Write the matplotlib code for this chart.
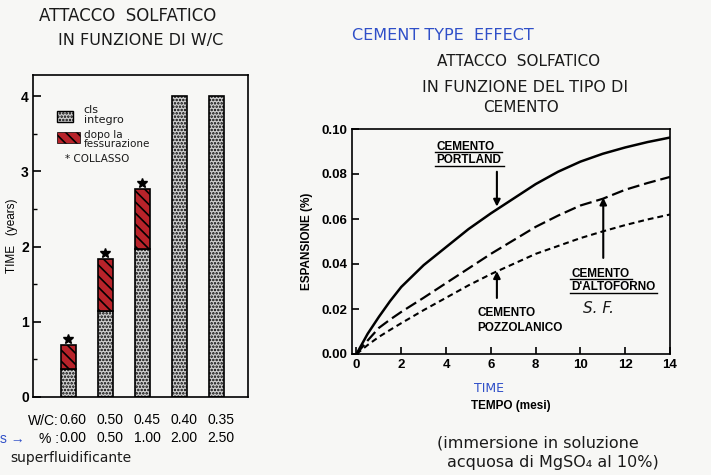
import numpy as np
import matplotlib.pyplot as plt
from matplotlib.patches import Rectangle
from matplotlib.ticker import MultipleLocator

# left chart: time to collapse vs w/c ratio
wc_ratio = ["0.60", "0.50", "0.45", "0.40", "0.35"]
superplast = ["0.00", "0.50", "1.00", "2.00", "2.50"]
intact_years = [0.37, 1.14, 1.97, 4.0, 4.0]
collapse_years = [0.69, 1.84, 2.76, np.nan, np.nan]

# right chart: expansion vs time for cement types
months = [0, 0.5, 1, 1.5, 2, 3, 4, 5, 6, 7, 8, 9, 10, 11, 12, 13, 14]
portland = [0, 0.009, 0.0165, 0.0235, 0.0298, 0.0395, 0.0475, 0.0555, 0.0625,
            0.069, 0.0755, 0.081, 0.0855, 0.089, 0.0918, 0.0942, 0.0962]
altoforno = [0, 0.006, 0.0116, 0.0153, 0.0187, 0.025, 0.0315, 0.038, 0.0445,
             0.0505, 0.0565, 0.0615, 0.066, 0.069, 0.073, 0.076, 0.0787]
pozzolanico = [0, 0.004, 0.0076, 0.0107, 0.0137, 0.0195, 0.025, 0.0305, 0.0355,
               0.040, 0.0445, 0.048, 0.0515, 0.0545, 0.0573, 0.0598, 0.062]

plt.rcParams["font.family"] = ["Liberation Sans", "DejaVu Sans"]
plt.rcParams["hatch.linewidth"] = 1.2

fig = plt.figure(figsize=(7.11, 4.75), dpi=100, facecolor="#f7f7f5")
W, H = 711, 475


def px(x, y):
    return x / W, 1 - y / H


hand = dict(family="DejaVu Sans", color="#1a1a1a")
blue = "#2f4fc8"

# ---------- left chart ----------
ax1 = fig.add_axes([33 / W, 1 - 397 / H, 215 / W, 322 / H])
ax1.set_facecolor("#f7f7f5")
pos = np.arange(1, 6)
crack = np.array(collapse_years) - np.array(intact_years)
ax1.bar(pos, intact_years, width=0.4, facecolor="#cfcfcf", edgecolor="black",
        hatch=".....", lw=1.2)
ax1.bar(pos, crack, bottom=intact_years, width=0.4, facecolor="#b8232a",
        edgecolor="black", hatch="\\\\\\", lw=1.2)
ax1.plot(pos, np.array(collapse_years) + 0.08, "k*", ms=7, ls="none")

ax1.set_xlim(0.05, 5.85)
ax1.set_ylim(0, 4.28)
ax1.set_xticks([])
ax1.yaxis.set_major_locator(MultipleLocator(1))
ax1.yaxis.set_minor_locator(MultipleLocator(0.5))
ax1.tick_params(axis="y", direction="in", length=6, width=1.2, labelsize=10, pad=3)
ax1.tick_params(axis="y", which="minor", direction="in", length=3, width=1)
for lab in ax1.get_yticklabels():
    lab.set_fontweight("bold")
for s in ax1.spines.values():
    s.set_linewidth(1.2)
ax1.set_ylabel("TIME   (years)", fontsize=8.5, labelpad=2)

# legend drawn by hand like the original
ax1.add_patch(Rectangle((0.11, 0.855), 0.075, 0.032, transform=ax1.transAxes,
                        facecolor="#cfcfcf", edgecolor="black", hatch=".....", lw=1))
ax1.add_patch(Rectangle((0.11, 0.79), 0.11, 0.032, transform=ax1.transAxes,
                        facecolor="#b8232a", edgecolor="black", hatch="\\\\\\", lw=0.5))
ax1.text(0.235, 0.875, "cls\nintegro", transform=ax1.transAxes, fontsize=8,
         va="center", linespacing=0.95, **hand)
ax1.text(0.235, 0.8, "dopo la\nfessurazione", transform=ax1.transAxes, fontsize=7.5,
         va="center", linespacing=0.95, **hand)
ax1.text(0.15, 0.74, "* COLLASSO", transform=ax1.transAxes, fontsize=7.5,
         va="center", **hand)

trans = ax1.get_xaxis_transform()
for p, a, b in zip(pos, wc_ratio, superplast):
    ax1.text(p + 0.13, -0.07, a, transform=trans, ha="center", va="center", fontsize=10)
    ax1.text(p + 0.13, -0.126, b, transform=trans, ha="center", va="center", fontsize=10)
fig.text(*px(59, 421), "W/C:", ha="right", va="center", fontsize=10)
fig.text(*px(59, 439), "% :", ha="right", va="center", fontsize=10)
fig.text(*px(0, 439), "s →", ha="left", va="center", fontsize=10, color=blue)
fig.text(*px(10, 458), "superfluidificante", ha="left", va="center", fontsize=10, **hand)

fig.text(*px(128, 16), "ATTACCO  SOLFATICO", ha="center", va="center", fontsize=12, **hand)
fig.text(*px(141, 41), "IN FUNZIONE DI W/C", ha="center", va="center", fontsize=11.5, **hand)

# ---------- right chart ----------
ax2 = fig.add_axes([352 / W, 1 - 354 / H, 318 / W, 225 / H])
ax2.set_facecolor("#f7f7f5")
ax2.plot(months, portland, color="black", lw=1.8)
ax2.plot(months, altoforno, color="black", lw=1.6, dashes=(5.4, 2.2))
ax2.plot(months, pozzolanico, color="black", lw=1.5, dashes=(2.8, 1.9))

ax2.set_xlim(-0.2, 14.0)
ax2.set_ylim(0, 0.10)
ax2.set_xticks(range(0, 15, 2))
ax2.set_yticks(np.arange(0, 0.101, 0.02))
ax2.set_yticklabels(["0.00", "0.02", "0.04", "0.06", "0.08", "0.10"])
ax2.tick_params(direction="in", length=5, width=1.2, labelsize=9.5)
for lab in ax2.get_xticklabels() + ax2.get_yticklabels():
    lab.set_fontweight("bold")
for s in ax2.spines.values():
    s.set_linewidth(1.2)
ax2.set_ylabel("ESPANSIONE (%)", fontsize=8.5, fontweight="bold", labelpad=6)
ax2.set_xlabel("TEMPO (mesi)", fontsize=8.5, fontweight="bold", labelpad=21)

arrow = dict(arrowstyle="-|>", color="black", lw=1.5, mutation_scale=10,
             shrinkA=0, shrinkB=0)
ax2.annotate("", xy=(6.27, 0.0655), xytext=(6.27, 0.081), arrowprops=arrow)
ax2.annotate("", xy=(11.02, 0.0695), xytext=(11.02, 0.0427), arrowprops=arrow)
ax2.annotate("", xy=(6.27, 0.0368), xytext=(6.27, 0.0249), arrowprops=arrow)

lbl = dict(fontsize=8.5, fontweight="bold", ha="left", va="center")
ax2.text(3.56, 0.0922, "CEMENTO", **lbl)
ax2.text(3.56, 0.0862, "PORTLAND", **lbl)
ax2.plot([3.5, 6.5], [0.0897, 0.0897], color="black", lw=1)
ax2.plot([3.5, 6.6], [0.0834, 0.0834], color="black", lw=1)
ax2.text(9.6, 0.0357, "CEMENTO", **lbl)
ax2.text(9.6, 0.0297, "D'ALTOFORNO", **lbl)
ax2.plot([9.55, 12.3], [0.0333, 0.0333], color="black", lw=1)
ax2.plot([9.55, 13.4], [0.0272, 0.0272], color="black", lw=1)
ax2.text(10.8, 0.0202, "S. F.", fontsize=11, ha="center", va="center", style="italic", **hand)
ax2.text(5.4, 0.0182, "CEMENTO", **lbl)
ax2.text(5.4, 0.0117, "POZZOLANICO", **lbl)

fig.text(*px(352, 36), "CEMENT TYPE  EFFECT", ha="left", va="center", fontsize=11.5,
         color=blue, family="DejaVu Sans")
fig.text(*px(519, 62), "ATTACCO  SOLFATICO", ha="center", va="center", fontsize=11, **hand)
fig.text(*px(525, 87), "IN FUNZIONE DEL TIPO DI", ha="center", va="center", fontsize=11.5, **hand)
fig.text(*px(521, 107), "CEMENTO", ha="center", va="center", fontsize=11, **hand)
fig.text(*px(489, 389), "TIME", ha="center", va="center", fontsize=9, color=blue,
         family="DejaVu Sans")

fig.text(*px(437, 443), "(immersione in soluzione", ha="left", va="center", fontsize=11.5, **hand)
fig.text(*px(447, 463), "acquosa di MgSO₄ al 10%)", ha="left", va="center", fontsize=11.5, **hand)

fig.savefig("out.png", dpi=100, facecolor=fig.get_facecolor())
